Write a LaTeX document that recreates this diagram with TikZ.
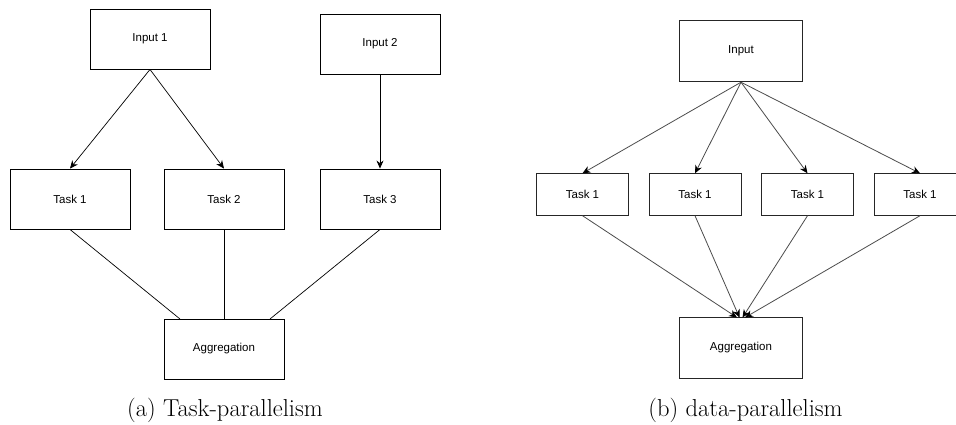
\documentclass[tikz,border=0pt]{standalone}
\usepackage{fontspec}
\newfontfamily\labfont{Liberation Sans}
\usetikzlibrary{arrows.meta}
\begin{document}
\begin{tikzpicture}[x=1pt,y=-1pt,
  box/.style={draw=black,line width=0.9pt,rectangle,inner sep=0pt,minimum width=120pt,minimum height=60pt,font=\labfont\fontsize{11.5}{13}\selectfont},
  sbox/.style={draw=black!85,line width=0.9pt,rectangle,inner sep=0pt,minimum width=92pt,minimum height=41.5pt,font=\labfont\fontsize{11.5}{13}\selectfont},
  bbox/.style={draw=black!85,line width=0.9pt,rectangle,inner sep=0pt,minimum width=123pt,minimum height=61.5pt,font=\labfont\fontsize{11.5}{13}\selectfont},
  arr/.style={line width=0.7pt,-{Stealth[length=8pt,width=7pt]}},
  ln/.style={line width=0.7pt},
  garr/.style={line width=0.8pt,draw=black!70,-{Stealth[length=8pt,width=7pt,color=black,fill=black]}},
  captext/.style={font=\fontsize{24.5}{29}\selectfont,anchor=base}]
\useasboundingbox (0,0) rectangle (956,424);
\clip (0,0) rectangle (956,424);
\fill[white] (0,0) rectangle (956,424);
% left diagram
\node[box] (in1) at (150,39) {Input 1};
\node[box] (in2) at (380,44) {Input 2};
\node[box] (t1) at (70,199) {Task 1};
\node[box] (t2) at (224,199) {Task 2};
\node[box] (t3) at (380,199) {Task 3};
\node[box] (agg) at (224,349) {Aggregation};
\coordinate (aggL) at (180,319);
\coordinate (aggR) at (270,319);
\draw[arr] (in1.south) -- (t1.north);
\draw[arr] (in1.south) -- (t2.north);
\draw[arr] (in2.south) -- (t3.north);
\draw[ln] (t1.south) -- (aggL);
\draw[ln] (t2.south) -- (agg.north);
\draw[ln] (t3.south) -- (aggR);
\node[captext] (capa) at (225,416.5) {(a) Task-parallelism};
% right diagram
\node[bbox] (in) at (741,51) {Input};
\node[sbox] (d1) at (582.5,194.5) {Task 1};
\node[sbox] (d2) at (695,194.5) {Task 1};
\node[sbox] (d3) at (807.5,194.5) {Task 1};
\node[sbox] (d4) at (920,194.5) {Task 1};
\node[bbox] (dagg) at (741,348) {Aggregation};
\coordinate (e1) at (737,317.5);
\coordinate (e2) at (739.5,317.5);
\coordinate (e3) at (742.5,317.5);
\coordinate (e4) at (745,317.5);
\draw[garr] (in.south) -- (d1.north);
\draw[garr] (in.south) -- (d2.north);
\draw[garr] (in.south) -- (d3.north);
\draw[garr] (in.south) -- (d4.north);
\draw[garr] (d1.south) -- (e1);
\draw[garr] (d2.south) -- (e2);
\draw[garr] (d3.south) -- (e3);
\draw[garr] (d4.south) -- (e4);
\node[captext] (capb) at (745.5,416.5) {(b) data-parallelism};
\end{tikzpicture}
\end{document}
